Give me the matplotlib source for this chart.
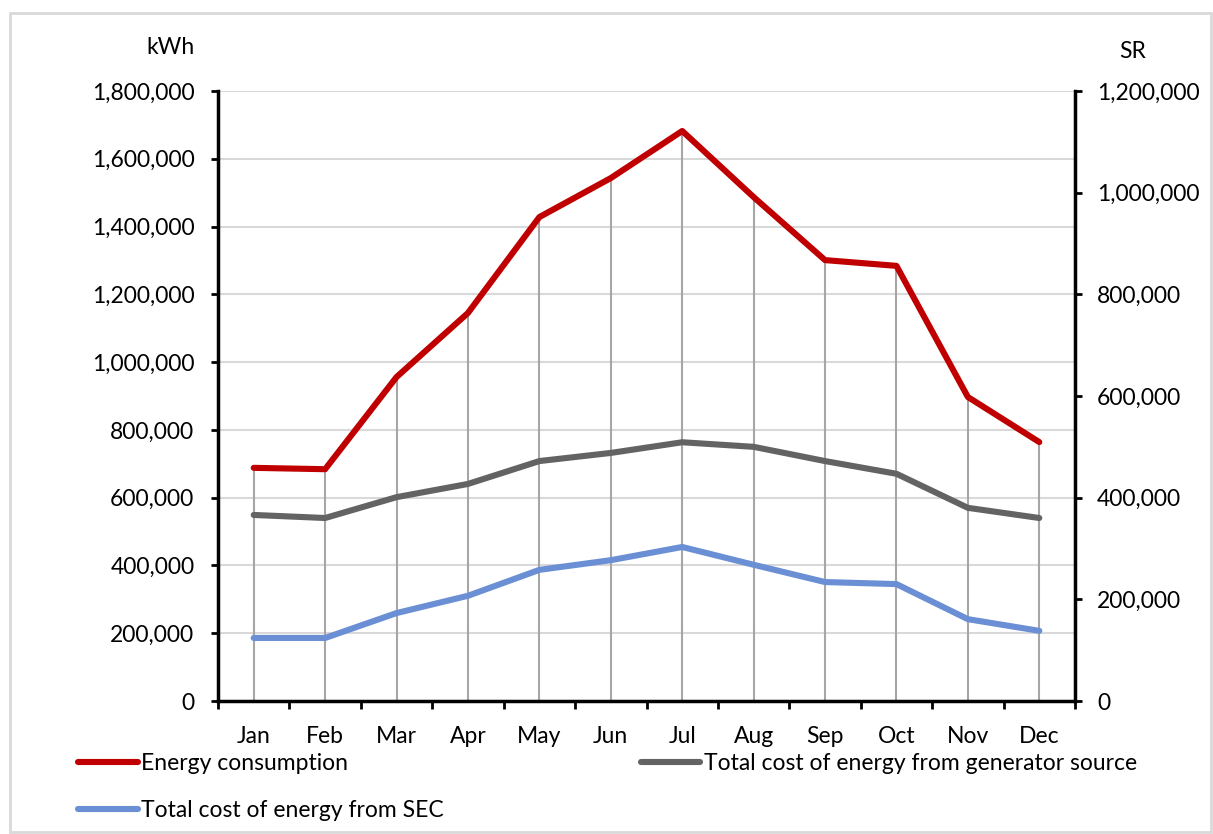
import matplotlib
matplotlib.use("Agg")
import matplotlib.pyplot as plt
from matplotlib.ticker import FuncFormatter, MultipleLocator, FixedLocator
from matplotlib.patches import Rectangle

plt.rcParams['font.family'] = ['Lato', 'DejaVu Sans']

months = ["Jan", "Feb", "Mar", "Apr", "May", "Jun", "Jul", "Aug", "Sep", "Oct", "Nov", "Dec"]
energy_kwh = [688000, 684000, 956000, 1145000, 1428000, 1543000, 1682000, 1487000, 1301000, 1284000, 897000, 764000]
cost_generator_sr = [366000, 360000, 401000, 427000, 472000, 488000, 509000, 500000, 472000, 447000, 380000, 360000]
cost_sec_sr = [124000, 124000, 173000, 207000, 258000, 277000, 303000, 268000, 234000, 230000, 161000, 138000]

RED = "#C00000"
GRAY = "#636363"
BLUE = "#6A8FD4"
DROP = "#A6A6A6"
GRID = "#D9D9D9"
FS = 16.5

fig = plt.figure(figsize=(12.13, 8.34), dpi=100)
fig.patches.append(Rectangle((10/1213, 1 - 832/834), 1201/1213, (832-13)/834,
                             transform=fig.transFigure, fill=False,
                             edgecolor="#D9D9D9", linewidth=2))
ax = fig.add_axes([218/1213, 1 - 701/834, (1075-218)/1213, (701-91)/834])
ax2 = ax.twinx()

x = list(range(len(months)))
ax.set_xlim(-0.5, len(months) - 0.5)
ax.set_ylim(0, 1800000)
ax2.set_ylim(0, 1200000)

ax.yaxis.set_major_locator(MultipleLocator(200000))
ax2.yaxis.set_major_locator(MultipleLocator(200000))
fmt = FuncFormatter(lambda v, p: f"{int(v):,}")
ax.yaxis.set_major_formatter(fmt)
ax2.yaxis.set_major_formatter(fmt)

ax.grid(axis='y', color=GRID, linewidth=1.5, zorder=0)
ax.set_axisbelow(True)

ax.vlines(x, 0, energy_kwh, color=DROP, linewidth=1.5, zorder=1)
lw = 4.4
l1, = ax.plot(x, energy_kwh, color=RED, linewidth=lw, solid_capstyle='round',
              solid_joinstyle='round', zorder=3, label="Energy consumption")
l2, = ax2.plot(x, cost_generator_sr, color=GRAY, linewidth=lw, solid_capstyle='round',
               solid_joinstyle='round', zorder=3, label="Total cost of energy from generator source")
l3, = ax2.plot(x, cost_sec_sr, color=BLUE, linewidth=lw, solid_capstyle='round',
               solid_joinstyle='round', zorder=3, label="Total cost of energy from SEC")

ax.set_xticks(x)
ax.set_xticklabels(months)
ax.xaxis.set_minor_locator(FixedLocator([i - 0.5 for i in range(len(months) + 1)]))
ax.tick_params(axis='x', which='major', length=0, pad=18, labelsize=FS)
ax.tick_params(axis='x', which='minor', length=6, width=2, direction='out', color='black')
ax.tick_params(axis='y', which='major', length=5, width=2, direction='out', pad=12, labelsize=FS)
ax2.tick_params(axis='y', which='major', length=5, width=2, direction='out', pad=11, labelsize=FS)

for a in (ax, ax2):
    for s in a.spines.values():
        s.set_visible(False)
ax.spines['left'].set_visible(True)
ax.spines['bottom'].set_visible(True)
ax2.spines['right'].set_visible(True)
for s in (ax.spines['left'], ax.spines['bottom'], ax2.spines['right']):
    s.set_linewidth(2.5)
    s.set_color('black')

fig.text(170/1213, 1 - 47/834, "kWh", fontsize=FS, ha='center', va='center')
fig.text(1133/1213, 1 - 52/834, "SR", fontsize=FS, ha='center', va='center')

leg = fig.legend([l1, l3, l2], [l1.get_label(), l3.get_label(), l2.get_label()],
                 ncol=2, loc='upper left', bbox_to_anchor=(78/1213, 1 - 753/834),
                 frameon=False, fontsize=FS, handlelength=2.6, handletextpad=0.15,
                 columnspacing=8.6, labelspacing=1.15, borderaxespad=0, borderpad=0)

fig.savefig("out.png", dpi=100)
